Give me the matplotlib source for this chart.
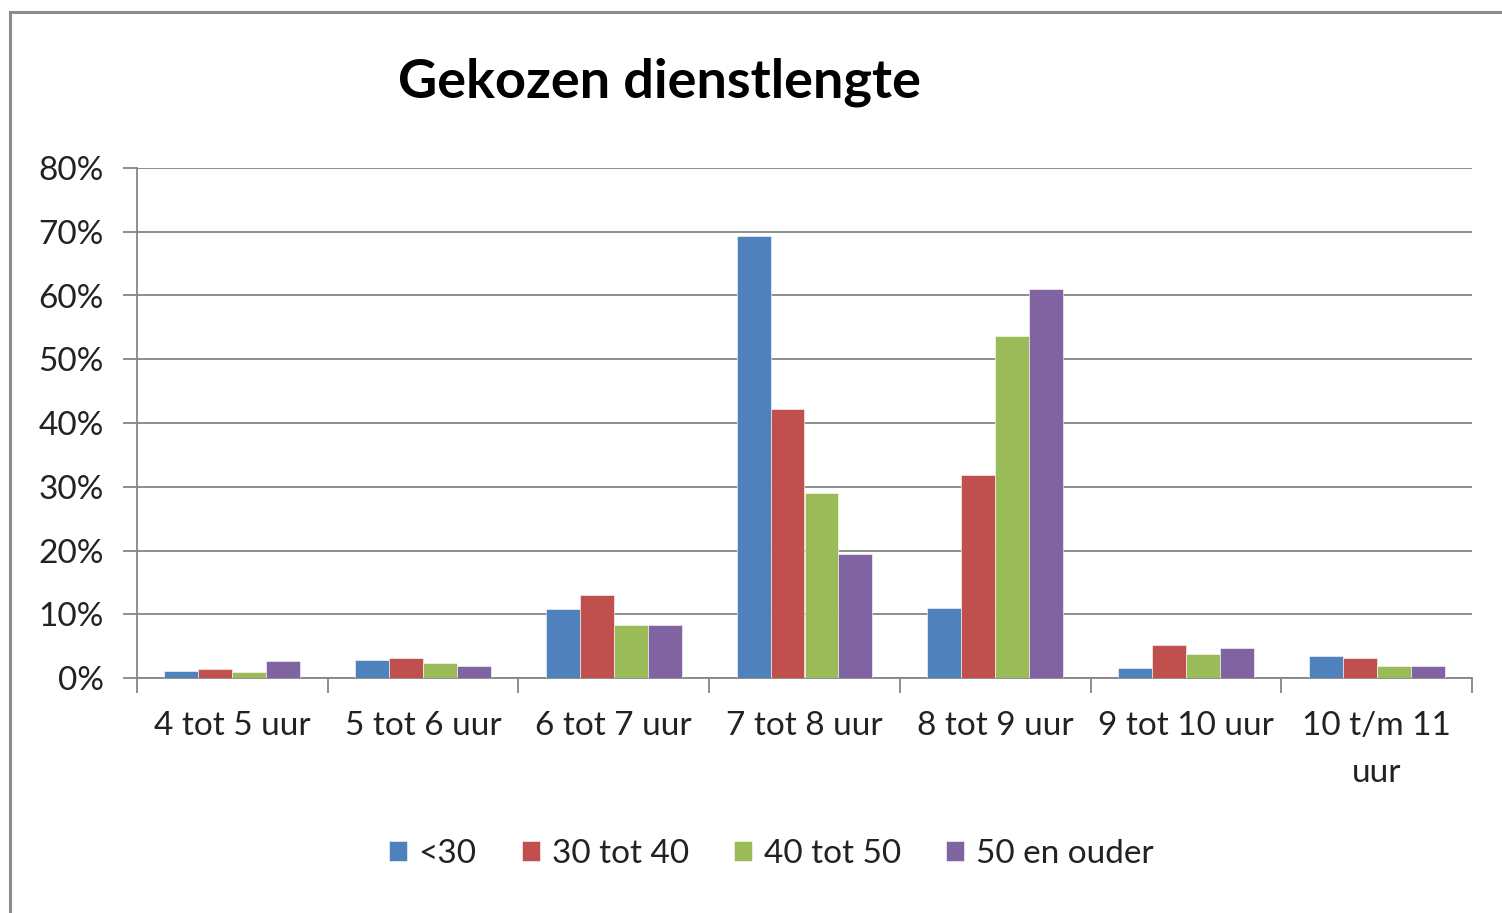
import matplotlib
matplotlib.use("Agg")
import matplotlib.pyplot as plt
from matplotlib.patches import Rectangle
from matplotlib.ticker import PercentFormatter, NullFormatter
import numpy as np

categories = ["4 tot 5 uur", "5 tot 6 uur", "6 tot 7 uur", "7 tot 8 uur",
              "8 tot 9 uur", "9 tot 10 uur", "10 t/m 11\nuur"]
series_names = ["<30", "30 tot 40", "40 tot 50", "50 en ouder"]
s_lt30 = [1.1, 2.9, 10.8, 69.4, 11.0, 1.6, 3.5]
s_30_40 = [1.4, 3.2, 13.0, 42.2, 31.8, 5.1, 3.1]
s_40_50 = [1.0, 2.3, 8.3, 29.0, 53.6, 3.8, 1.9]
s_50plus = [2.6, 1.9, 8.3, 19.5, 61.0, 4.7, 1.9]
series_values = [s_lt30, s_30_40, s_40_50, s_50plus]
colors = ["#4F81BD", "#C0504D", "#9BBB59", "#8064A2"]
yticks = [0, 10, 20, 30, 40, 50, 60, 70, 80]

W, H = 1502, 913
fig = plt.figure(figsize=(W / 100, H / 100), dpi=100)
font = "Lato"

# outer chart frame
fig.patches.append(Rectangle((10 / W, -0.1), 1.2, 1 - 12 / H + 0.1,
                             transform=fig.transFigure, fill=False,
                             edgecolor="#8c8c8c", linewidth=2.2))

ax = fig.add_axes([137 / W, 1 - 678 / H, (1472 - 137) / W, (678 - 168) / H])
x = np.arange(len(categories))
bw = 0.178
for i, (vals, c, name) in enumerate(zip(series_values, colors, series_names)):
    ax.bar(x + (i - 1.5) * bw, vals, width=bw, color=c, label=name,
           edgecolor="white", linewidth=0.4, zorder=3)

ax.set_xlim(-0.5, len(categories) - 0.5)
ax.set_ylim(0, 80)
ax.set_yticks(yticks)
ax.yaxis.set_major_formatter(PercentFormatter(decimals=0))
ax.grid(axis="y", color="#868686", linewidth=1.3, zorder=0)
for s in ["top", "right"]:
    ax.spines[s].set_visible(False)
for s in ["left", "bottom"]:
    ax.spines[s].set_color("#868686")
    ax.spines[s].set_linewidth(1.3)
ax.tick_params(axis="y", length=10, width=1.3, color="#868686", pad=14,
               labelsize=24, labelcolor="#222222")
ax.set_xticks(np.arange(-0.5, len(categories)), minor=False)
ax.xaxis.set_major_formatter(NullFormatter())
ax.set_xticks(x, minor=True)
ax.set_xticklabels(categories, minor=True, fontsize=24, color="#222222",
                   family=font, linespacing=1.7)
ax.tick_params(axis="x", which="major", length=11, width=1.3, color="#868686")
ax.tick_params(axis="x", which="minor", length=0, pad=24)
for lab in ax.get_yticklabels():
    lab.set_family(font)

fig.text(660 / W, 1 - 82 / H, "Gekozen dienstlengte", ha="center", va="center",
         fontsize=39, fontweight="bold", family=font)

leg = fig.legend(loc="center", bbox_to_anchor=(771 / W, 1 - 854 / H), ncol=4,
                 frameon=False, handlelength=0.55, handleheight=0.55,
                 handletextpad=0.35, columnspacing=1.35,
                 prop={"family": font, "size": 24})
for t in leg.get_texts():
    t.set_color("#222222")

fig.savefig("out.png", dpi=100)
